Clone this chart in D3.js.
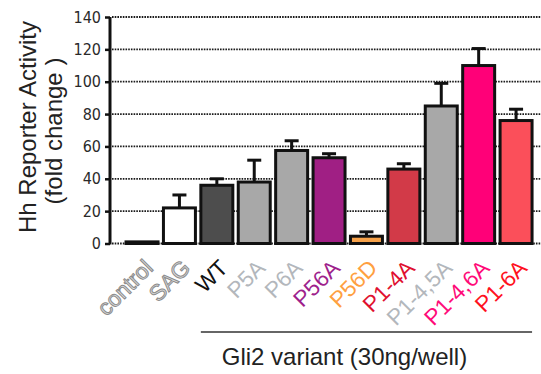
<!DOCTYPE html>
<html>
<head>
<meta charset="utf-8">
<script src="https://cdn.jsdelivr.net/npm/d3@7"></script>
<style>
  html, body { margin: 0; padding: 0; background: #fff; }
  svg { display: block; font-family: "Liberation Sans", Arial, sans-serif; }
</style>
</head>
<body>
<svg id="chart" width="541" height="374"></svg>
<script>
// Gli2 variants and Hh reporter readout (fold change, mean and upper SEM)
const categories = ["control", "SAG", "WT", "P5A", "P6A", "P56A", "P56D", "P1-4A", "P1-4,5A", "P1-4,6A", "P1-6A"];
const means      = [1, 22, 36, 38, 57.5, 53, 4.5, 46, 85, 110, 76];
const errors     = [0, 8, 4, 13.5, 6, 2.5, 2.7, 3.3, 14, 10.5, 7];
const barColors  = ["#111111", "#ffffff", "#4d4d4d", "#a8a8a8", "#a8a8a8", "#a01f84", "#f7a24a", "#d23a48", "#a8a8a8", "#ff0078", "#fb4f5a"];
const labelColors = ["#dedede", "#dedede", "#111111", "#b3b7bc", "#b3b7bc", "#9e1f8c", "#ffa040", "#e0102f", "#b3b7bc", "#ff0a78", "#ff1020"];
const outlinedLabels = ["control", "SAG"];
const yTicks = [0, 20, 40, 60, 80, 100, 120, 140];
const groupStart = "WT", groupEnd = "P1-6A";

const svg = d3.select("#chart");

const x = d3.scaleBand()
  .domain(categories)
  .range([122.3, 535.8])
  .paddingInner(0.145)
  .paddingOuter(0.1);

const y = d3.scaleLinear().domain([0, 140]).range([243.5, 17]);

// dotted horizontal grid
svg.append("g")
  .selectAll("line")
  .data(yTicks)
  .join("line")
  .attr("x1", 112).attr("x2", 541)
  .attr("y1", d => y(d)).attr("y2", d => y(d))
  .attr("stroke", "#1a1a1a")
  .attr("stroke-width", 1.8)
  .attr("stroke-dasharray", "1.6,1.1");

// error bars (upper only)
const err = svg.append("g");
categories.forEach((c, i) => {
  if (errors[i] <= 0) return;
  const cx = x(c) + x.bandwidth() / 2;
  err.append("line")
    .attr("x1", cx).attr("x2", cx)
    .attr("y1", y(means[i])).attr("y2", y(means[i] + errors[i]))
    .attr("stroke", "#111").attr("stroke-width", 3);
  err.append("line")
    .attr("x1", cx - 7).attr("x2", cx + 7)
    .attr("y1", y(means[i] + errors[i])).attr("y2", y(means[i] + errors[i]))
    .attr("stroke", "#111").attr("stroke-width", 3);
});

// bars
svg.append("g")
  .selectAll("rect")
  .data(categories)
  .join("rect")
  .attr("x", d => x(d))
  .attr("width", x.bandwidth())
  .attr("y", (d, i) => y(means[i]))
  .attr("height", (d, i) => y(0) - y(means[i]))
  .attr("fill", (d, i) => barColors[i])
  .attr("stroke", "#111")
  .attr("stroke-width", 3);

// y axis
const yAxis = d3.axisLeft(y).tickValues(yTicks).tickSize(5).tickPadding(4);
const ya = svg.append("g").attr("transform", "translate(110,0)").call(yAxis);
ya.select(".domain").attr("stroke", "#111").attr("stroke-width", 3).attr("d", `M0,${y(140)}V${y(0) + 1}`);
ya.selectAll(".tick line").attr("stroke", "#111").attr("stroke-width", 2.5);
ya.selectAll(".tick text")
  .attr("font-size", 16).attr("fill", "#2a2a2a")
  .attr("font-family", "'Liberation Sans Narrow', 'DejaVu Sans Condensed', Arial, sans-serif");

// y title
svg.append("text")
  .attr("transform", `translate(36,127) rotate(-90)`)
  .attr("text-anchor", "middle")
  .attr("font-size", 24).attr("fill", "#222")
  .text("Hh Reporter Activity");
svg.append("text")
  .attr("transform", `translate(62,131) rotate(-90)`)
  .attr("text-anchor", "middle")
  .attr("font-size", 24).attr("fill", "#222")
  .text("(fold change )");

// category labels
svg.append("g")
  .selectAll("text")
  .data(categories)
  .join("text")
  .attr("transform", d => `translate(${x(d) + x.bandwidth() / 2 + 1},${258}) rotate(-45)`)
  .attr("text-anchor", "end")
  .attr("dominant-baseline", "hanging")
  .attr("font-size", 22.5)
  .attr("fill", (d, i) => labelColors[i])
  .attr("stroke", d => outlinedLabels.includes(d) ? "#8c8c8c" : "none")
  .attr("stroke-width", 1)
  .text(d => d);

// group bracket and caption
svg.append("line")
  .attr("x1", x(groupStart)).attr("x2", x(groupEnd) + x.bandwidth())
  .attr("y1", 332).attr("y2", 332)
  .attr("stroke", "#333").attr("stroke-width", 1.5);
svg.append("text")
  .attr("x", (x(groupStart) + x(groupEnd) + x.bandwidth()) / 2 - 22)
  .attr("y", 365)
  .attr("text-anchor", "middle")
  .attr("font-size", 24).attr("fill", "#222")
  .text("Gli2 variant (30ng/well)");
</script>
</body>
</html>
